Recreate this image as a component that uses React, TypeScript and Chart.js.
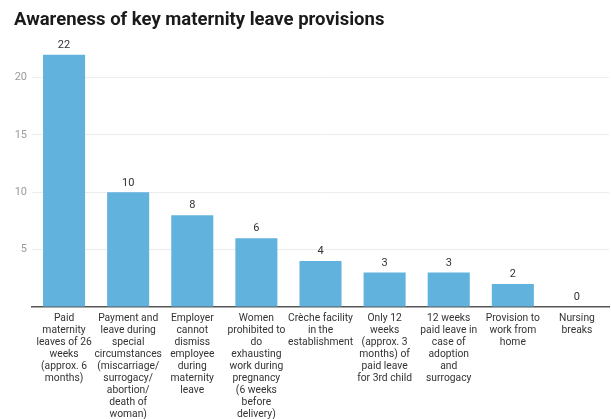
import React, { useEffect, useRef } from "react";
import { Chart, registerables } from "chart.js";

Chart.register(...registerables);

const TITLE = "Awareness of key maternity leave provisions";

const categories: string[][] = [
  ["Paid", "maternity", "leaves of 26", "weeks", "(approx. 6", "months)"],
  ["Payment and", "leave during", "special", "circumstances", "(miscarriage/", "surrogacy/", "abortion/", "death of", "woman)"],
  ["Employer", "cannot", "dismiss", "employee", "during", "maternity", "leave"],
  ["Women", "prohibited to", "do", "exhausting", "work during", "pregnancy", "(6 weeks", "before", "delivery)"],
  ["Crèche facility", "in the", "establishment"],
  ["Only 12", "weeks", "(approx. 3", "months) of", "paid leave", "for 3rd child"],
  ["12 weeks", "paid leave in", "case of", "adoption", "and", "surrogacy"],
  ["Provision to", "work from", "home"],
  ["Nursing", "breaks"],
];

const values: number[] = [22, 10, 8, 6, 4, 3, 3, 2, 0];

const yTicks: number[] = [5, 10, 15, 20];

const valueLabels = {
  id: "valueLabels",
  afterDatasetsDraw(chart: any) {
    const ctx = chart.ctx;
    const meta = chart.getDatasetMeta(0);
    ctx.save();
    ctx.font = "11px Roboto";
    ctx.fillStyle = "#333333";
    ctx.textAlign = "center";
    ctx.textBaseline = "bottom";
    meta.data.forEach((bar: any, i: number) => {
      ctx.fillText(String(values[i]), bar.x, bar.y - 4);
    });
    ctx.restore();
  },
};

export default function App() {
  const ref = useRef<HTMLCanvasElement>(null);

  useEffect(() => {
    if (!ref.current) return;
    const chart = new Chart(ref.current, {
      type: "bar",
      data: {
        labels: categories,
        datasets: [
          {
            data: values,
            backgroundColor: "#62b2de",
            borderWidth: 0,
            categoryPercentage: 0.82,
            barPercentage: 0.8,
          },
        ],
      },
      plugins: [valueLabels],
      options: {
        animation: false,
        responsive: true,
        maintainAspectRatio: false,
        layout: { padding: { left: 14, right: 2, top: 0, bottom: 0 } },
        plugins: {
          legend: { display: false },
          tooltip: { enabled: false },
          title: {
            display: true,
            text: TITLE,
            align: "start",
            color: "#1a1a1a",
            font: { family: "Roboto", size: 18.5, weight: "bold", lineHeight: 1.2 },
            padding: { top: 9, bottom: 12 },
          },
        },
        scales: {
          x: {
            afterFit(scale: any) {
              scale.height = 112;
            },
            grid: { display: false, drawTicks: false },
            border: { display: true, color: "#555555", width: 1.5 },
            ticks: {
              color: "#333333",
              font: { family: "Roboto", size: 10.3, lineHeight: 1.17 },
              padding: 5,
              maxRotation: 0,
              minRotation: 0,
              autoSkip: false,
            },
          },
          y: {
            min: 0,
            max: 23,
            afterBuildTicks(scale: any) {
              scale.ticks = [0, ...yTicks].map((v) => ({ value: v }));
            },
            afterFit(scale: any) {
              scale.width = 18;
            },
            grid: {
              drawTicks: false,
              color: (c: any) => (c.tick && c.tick.value === 0 ? "rgba(0,0,0,0)" : "#ececec"),
            },
            border: { display: false },
            ticks: {
              color: "#9a9a9a",
              font: { family: "Roboto", size: 11 },
              padding: 5,
              callback: (v: any) => (v === 0 ? "" : String(v)),
            },
          },
        },
      },
    });
    return () => chart.destroy();
  }, []);

  return (
    <div style={{ position: "fixed", left: 0, top: 0, width: 611, height: 419, background: "#fff" }}>
      <canvas ref={ref} />
    </div>
  );
}
